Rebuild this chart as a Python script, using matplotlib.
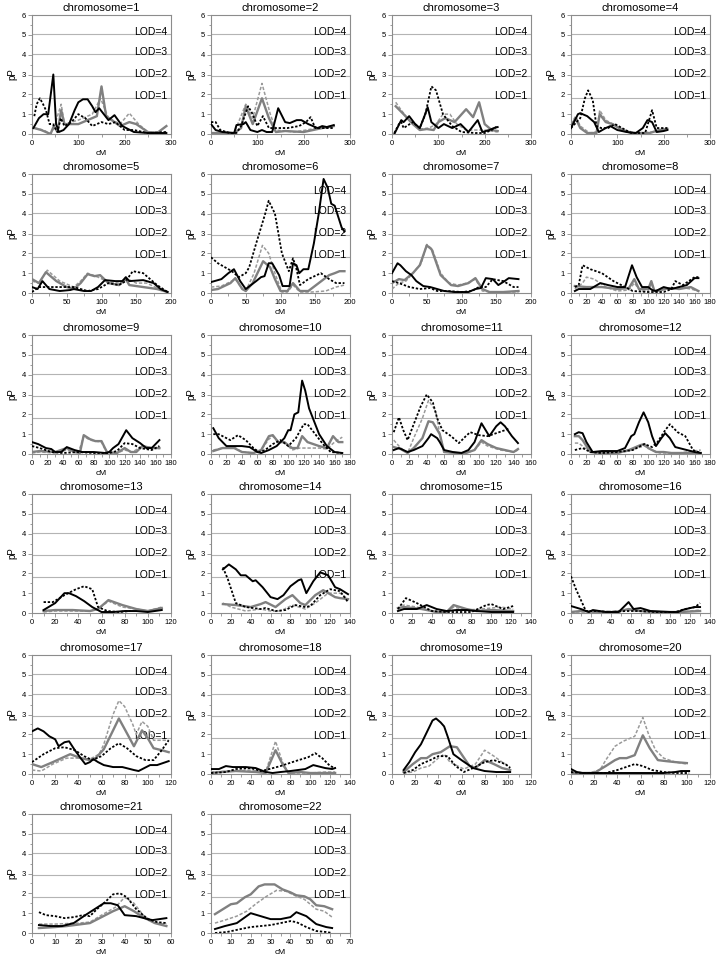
import matplotlib
matplotlib.use('Agg')
import matplotlib.pyplot as plt
from matplotlib.ticker import MultipleLocator

plt.rcParams['font.family'] = ['Liberation Sans', 'DejaVu Sans']

chromosomes = list(range(1, 23))
x_max = [300, 300, 300, 300, 200, 200, 200, 180, 180, 180, 160, 180,
         120, 140, 140, 140, 120, 140, 120, 120, 60, 70]
x_step = [100, 100, 100, 100, 50, 50, 50, 20, 20, 20, 20, 20,
          20, 20, 20, 20, 20, 20, 20, 20, 10, 10]
lod_levels = [1.8, 2.9, 4.02, 5.05]
lod_labels = ['LOD=1', 'LOD=2', 'LOD=3', 'LOD=4']

# (cM, pP) points, one dict per line type
black_solid = {
    1: [(3, 0.3), (15, 0.8), (25, 1.0), (35, 1.0), (46, 3.0), (52, 0.5), (58, 0.1), (68, 0.2), (80, 0.5), (92, 1.2), (100, 1.6), (110, 1.75), (120, 1.75), (130, 1.4), (137, 1.1), (145, 1.3), (155, 1.0), (165, 0.7), (178, 0.95), (195, 0.4), (220, 0.1), (250, 0.05), (290, 0.05)],
    2: [(0, 0.5), (10, 0.2), (25, 0.1), (50, 0.05), (55, 0.45), (70, 0.5), (75, 0.6), (85, 0.2), (100, 0.1), (110, 0.2), (120, 0.1), (132, 0.1), (145, 1.3), (160, 0.6), (170, 0.55), (185, 0.7), (195, 0.7), (210, 0.5), (230, 0.3), (240, 0.4), (250, 0.35), (265, 0.45)],
    3: [(5, 0.0), (20, 0.7), (25, 0.6), (37, 0.9), (50, 0.5), (60, 0.3), (70, 0.9), (77, 1.35), (85, 0.6), (100, 0.3), (112, 0.5), (130, 0.3), (148, 0.5), (165, 0.1), (185, 0.7), (195, 0.1), (210, 0.2), (220, 0.3), (228, 0.35)],
    4: [(0, 0.3), (15, 1.0), (20, 1.05), (35, 0.9), (50, 0.6), (60, 0.1), (75, 0.3), (85, 0.4), (100, 0.2), (120, 0.1), (140, 0.05), (155, 0.3), (165, 0.7), (175, 0.6), (185, 0.1), (200, 0.15), (208, 0.2)],
    5: [(0, 0.3), (8, 0.2), (15, 0.6), (25, 0.2), (40, 0.1), (55, 0.15), (60, 0.2), (75, 0.1), (85, 0.1), (95, 0.3), (105, 0.65), (120, 0.6), (130, 0.6), (135, 0.8), (140, 0.6), (160, 0.65), (175, 0.5), (185, 0.2), (195, 0.05)],
    6: [(0, 0.55), (15, 0.7), (25, 1.0), (33, 1.2), (42, 0.6), (50, 0.2), (65, 0.6), (72, 0.8), (77, 0.85), (83, 1.5), (88, 1.5), (98, 0.9), (103, 0.35), (113, 0.35), (118, 1.5), (123, 1.4), (127, 1.0), (133, 1.2), (140, 1.2), (148, 2.5), (155, 4.0), (162, 5.75), (168, 5.3), (173, 4.5), (178, 4.4), (188, 3.3), (192, 3.1)],
    7: [(0, 1.0), (8, 1.5), (12, 1.4), (20, 1.1), (28, 0.9), (35, 0.6), (45, 0.35), (55, 0.3), (65, 0.2), (75, 0.1), (90, 0.05), (110, 0.05), (120, 0.2), (128, 0.25), (135, 0.75), (145, 0.7), (153, 0.4), (162, 0.6), (168, 0.75), (182, 0.7)],
    8: [(5, 0.1), (10, 0.2), (25, 0.2), (38, 0.5), (48, 0.4), (60, 0.3), (70, 0.3), (79, 1.4), (85, 0.8), (92, 0.3), (100, 0.3), (105, 0.15), (110, 0.1), (120, 0.3), (130, 0.2), (140, 0.3), (150, 0.4), (160, 0.75), (165, 0.75)],
    9: [(0, 0.6), (8, 0.5), (18, 0.3), (25, 0.25), (30, 0.1), (38, 0.1), (45, 0.35), (55, 0.2), (65, 0.1), (80, 0.1), (95, 0.05), (100, 0.1), (105, 0.3), (112, 0.5), (122, 1.2), (130, 0.8), (140, 0.55), (148, 0.3), (155, 0.3), (165, 0.7)],
    10: [(3, 1.3), (10, 0.8), (20, 0.4), (30, 0.4), (40, 0.4), (50, 0.35), (60, 0.1), (65, 0.05), (75, 0.2), (85, 0.4), (95, 0.8), (100, 1.2), (103, 1.2), (108, 2.0), (113, 2.1), (118, 3.7), (122, 3.2), (127, 2.3), (132, 1.8), (140, 1.0), (150, 0.4), (160, 0.1), (170, 0.05)],
    11: [(2, 0.2), (8, 0.3), (18, 0.1), (25, 0.2), (35, 0.4), (42, 0.8), (45, 1.0), (52, 0.8), (55, 0.6), (60, 0.2), (70, 0.1), (80, 0.05), (88, 0.2), (95, 0.6), (103, 1.55), (112, 0.9), (120, 1.4), (125, 1.6), (130, 1.4), (138, 0.9), (145, 0.55)],
    12: [(5, 1.0), (10, 1.1), (15, 1.05), (20, 0.6), (28, 0.1), (40, 0.15), (50, 0.15), (60, 0.15), (70, 0.3), (78, 0.9), (82, 1.0), (88, 1.6), (94, 2.1), (100, 1.6), (105, 0.9), (110, 0.4), (117, 0.8), (122, 1.05), (128, 0.8), (135, 0.35), (145, 0.25), (150, 0.2), (160, 0.1), (168, 0.05)],
    13: [(10, 0.15), (20, 0.5), (28, 1.0), (32, 1.0), (38, 0.85), (45, 0.6), (52, 0.3), (60, 0.05), (70, 0.05), (80, 0.1), (90, 0.1), (100, 0.05), (106, 0.1), (112, 0.15)],
    14: [(12, 2.2), (18, 2.45), (25, 2.2), (30, 1.9), (35, 1.9), (42, 1.6), (45, 1.65), (52, 1.3), (60, 0.8), (67, 0.7), (73, 0.9), (80, 1.35), (88, 1.65), (91, 1.7), (96, 1.0), (103, 1.6), (110, 2.05), (118, 1.9), (125, 1.3), (130, 1.2), (138, 0.95)],
    15: [(6, 0.1), (12, 0.2), (25, 0.2), (35, 0.4), (45, 0.2), (55, 0.1), (65, 0.15), (75, 0.15), (85, 0.1), (100, 0.05), (122, 0.05)],
    16: [(0, 0.35), (10, 0.2), (18, 0.05), (22, 0.15), (35, 0.05), (48, 0.05), (53, 0.3), (58, 0.55), (63, 0.2), (70, 0.25), (80, 0.1), (100, 0.05), (108, 0.05), (112, 0.15), (120, 0.25), (125, 0.3), (130, 0.3)],
    17: [(0, 2.15), (5, 2.3), (10, 2.15), (15, 1.9), (20, 1.75), (23, 1.4), (28, 1.6), (32, 1.65), (37, 1.2), (42, 0.8), (46, 0.5), (50, 0.6), (53, 0.75), (57, 0.6), (62, 0.45), (70, 0.35), (78, 0.35), (88, 0.2), (92, 0.15), (97, 0.3), (102, 0.45), (108, 0.45), (118, 0.65)],
    18: [(0, 0.25), (8, 0.25), (15, 0.4), (22, 0.35), (35, 0.35), (45, 0.3), (55, 0.1), (62, 0.05), (70, 0.1), (80, 0.15), (95, 0.25), (103, 0.45), (115, 0.3), (122, 0.25), (125, 0.3)],
    19: [(10, 0.2), (15, 0.6), (20, 1.1), (25, 1.5), (30, 2.1), (35, 2.7), (38, 2.8), (42, 2.6), (45, 2.4), (48, 1.9), (53, 1.0), (60, 0.7), (70, 0.3), (80, 0.15), (90, 0.1), (102, 0.1)],
    20: [(0, 0.25), (5, 0.1), (10, 0.05), (30, 0.05), (50, 0.05), (65, 0.05), (80, 0.05), (90, 0.1), (95, 0.15), (102, 0.15)],
    21: [(3, 0.4), (8, 0.35), (13, 0.35), (18, 0.5), (23, 0.9), (27, 1.2), (31, 1.5), (34, 1.5), (37, 1.4), (40, 0.9), (45, 0.85), (50, 0.7), (52, 0.65), (55, 0.7), (58, 0.75)],
    22: [(2, 0.2), (7, 0.35), (13, 0.5), (20, 1.0), (25, 0.85), (30, 0.7), (35, 0.7), (40, 0.8), (43, 1.05), (48, 0.85), (53, 0.45), (58, 0.3), (61, 0.25)],
}

black_dotted = {
    1: [(5, 0.9), (10, 1.5), (17, 1.8), (24, 1.5), (30, 1.2), (38, 0.5), (45, 0.5), (55, 0.1), (62, 0.8), (70, 0.4), (85, 0.6), (100, 1.0), (115, 0.8), (130, 0.4), (150, 0.6), (165, 0.5), (180, 0.6), (200, 0.2), (220, 0.2), (250, 0.05), (290, 0.1)],
    2: [(0, 0.6), (10, 0.6), (20, 0.2), (40, 0.05), (55, 0.05), (65, 0.4), (80, 1.4), (90, 1.0), (100, 0.4), (112, 0.9), (125, 0.3), (140, 0.3), (165, 0.3), (190, 0.4), (205, 0.6), (215, 0.85), (225, 0.3), (240, 0.3), (265, 0.3)],
    3: [(5, 0.05), (15, 0.5), (20, 0.6), (25, 0.3), (45, 0.6), (60, 0.3), (72, 1.0), (85, 2.4), (95, 2.2), (110, 1.0), (130, 0.4), (150, 0.1), (180, 0.05), (200, 0.05), (215, 0.2), (228, 0.4)],
    4: [(0, 0.3), (20, 0.8), (30, 1.8), (37, 2.2), (47, 1.7), (55, 0.4), (65, 0.3), (80, 0.3), (95, 0.5), (110, 0.3), (130, 0.05), (160, 0.05), (175, 1.2), (185, 0.3), (208, 0.3)],
    5: [(0, 0.05), (10, 0.3), (20, 0.3), (40, 0.3), (60, 0.3), (80, 0.1), (95, 0.2), (110, 0.5), (125, 0.4), (135, 0.6), (145, 1.1), (160, 1.0), (180, 0.4), (195, 0.05)],
    6: [(0, 1.8), (10, 1.5), (20, 1.3), (30, 1.1), (40, 0.8), (50, 1.0), (55, 1.3), (65, 2.5), (78, 4.0), (83, 4.65), (92, 4.0), (102, 2.0), (112, 1.1), (118, 1.75), (123, 1.2), (128, 0.4), (140, 0.7), (158, 1.0), (170, 0.7), (180, 0.5), (192, 0.5)],
    7: [(0, 0.6), (10, 0.5), (25, 0.3), (40, 0.2), (55, 0.25), (65, 0.1), (80, 0.1), (100, 0.05), (115, 0.1), (125, 0.3), (135, 0.3), (145, 0.7), (160, 0.6), (175, 0.3), (182, 0.3)],
    8: [(5, 0.3), (10, 0.4), (15, 1.4), (25, 1.2), (40, 1.0), (55, 0.6), (70, 0.3), (80, 0.1), (100, 0.05), (120, 0.05), (130, 0.2), (135, 0.6), (145, 0.4), (160, 0.8), (165, 0.8)],
    9: [(0, 0.4), (10, 0.3), (25, 0.1), (40, 0.05), (60, 0.1), (80, 0.05), (100, 0.05), (110, 0.15), (120, 0.55), (130, 0.5), (140, 0.3), (155, 0.2), (165, 0.4)],
    10: [(3, 1.0), (10, 1.0), (25, 0.7), (35, 0.95), (45, 0.7), (55, 0.3), (62, 0.1), (70, 0.2), (80, 0.5), (90, 0.7), (100, 0.4), (110, 0.8), (120, 1.5), (125, 1.5), (135, 1.0), (145, 0.5), (155, 0.1), (170, 0.05)],
    11: [(2, 1.1), (8, 1.85), (13, 1.2), (18, 0.7), (25, 1.5), (33, 2.4), (40, 3.0), (47, 2.6), (52, 1.8), (58, 1.2), (68, 0.9), (77, 0.55), (85, 0.9), (90, 1.1), (100, 0.95), (110, 0.9), (130, 1.2), (135, 1.3)],
    12: [(5, 0.2), (15, 0.3), (25, 0.1), (40, 0.05), (60, 0.1), (80, 0.2), (95, 0.5), (105, 0.35), (112, 0.6), (122, 1.2), (128, 1.5), (138, 1.1), (148, 0.9), (158, 0.2), (168, 0.05)],
    13: [(10, 0.55), (18, 0.55), (28, 0.9), (38, 1.2), (45, 1.35), (52, 1.2), (57, 0.3), (65, 0.1), (75, 0.05), (85, 0.1)],
    14: [(12, 2.3), (17, 1.7), (25, 0.5), (35, 0.3), (50, 0.2), (55, 0.25), (65, 0.1), (75, 0.15), (85, 0.4), (95, 0.3), (100, 0.35), (110, 0.9), (120, 1.2), (130, 1.1), (138, 0.55)],
    15: [(6, 0.2), (14, 0.75), (25, 0.5), (40, 0.1), (55, 0.05), (70, 0.05), (80, 0.05), (95, 0.4), (100, 0.45), (112, 0.2), (122, 0.35)],
    16: [(0, 1.85), (5, 1.2), (15, 0.1), (25, 0.1), (40, 0.05), (55, 0.1), (70, 0.1), (85, 0.05), (105, 0.05), (115, 0.2), (125, 0.3), (130, 0.5)],
    17: [(0, 0.6), (10, 1.0), (20, 1.3), (28, 1.35), (37, 1.2), (45, 0.9), (52, 0.7), (60, 0.9), (68, 1.3), (75, 1.55), (82, 1.3), (90, 0.9), (98, 0.7), (105, 0.7), (112, 1.2), (118, 1.7)],
    18: [(0, 0.05), (15, 0.1), (25, 0.25), (40, 0.3), (50, 0.15), (55, 0.2), (70, 0.4), (85, 0.65), (98, 0.85), (105, 1.05), (112, 0.8), (120, 0.4), (125, 0.3)],
    19: [(10, 0.05), (18, 0.2), (25, 0.5), (33, 0.7), (40, 0.9), (45, 0.9), (48, 0.9), (55, 0.4), (62, 0.1), (70, 0.3), (80, 0.6), (88, 0.7), (98, 0.5), (102, 0.3)],
    20: [(0, 0.1), (10, 0.05), (30, 0.05), (40, 0.2), (50, 0.4), (55, 0.5), (62, 0.4), (70, 0.2), (80, 0.1), (90, 0.05), (102, 0.05)],
    21: [(3, 1.05), (6, 0.9), (10, 0.85), (14, 0.75), (18, 0.8), (22, 0.9), (25, 0.85), (28, 1.2), (31, 1.5), (35, 1.95), (38, 2.0), (41, 1.8), (45, 1.2), (50, 0.7), (54, 0.55), (58, 0.5)],
    22: [(2, 0.0), (8, 0.05), (15, 0.2), (20, 0.3), (30, 0.4), (35, 0.5), (40, 0.6), (43, 0.55), (48, 0.3), (53, 0.1), (58, 0.05), (61, 0.0)],
}

gray_solid = {
    1: [(5, 0.3), (20, 0.2), (40, 0.0), (47, 0.4), (55, 0.1), (63, 1.2), (70, 0.5), (100, 0.5), (120, 0.7), (140, 0.9), (150, 2.4), (160, 0.9), (190, 0.4), (210, 0.6), (225, 0.5), (250, 0.1), (270, 0.05), (290, 0.4)],
    2: [(0, 0.05), (50, 0.05), (65, 0.3), (75, 1.4), (90, 0.5), (110, 1.8), (125, 0.8), (140, 0.1), (160, 0.15), (200, 0.1), (240, 0.3), (265, 0.4)],
    3: [(8, 1.4), (25, 1.0), (45, 0.5), (60, 0.2), (75, 0.25), (90, 0.2), (100, 0.6), (115, 0.8), (135, 0.6), (160, 1.25), (175, 0.85), (188, 1.6), (200, 0.5), (215, 0.2), (228, 0.15)],
    4: [(0, 0.4), (10, 0.8), (20, 0.3), (35, 0.05), (55, 0.05), (62, 1.0), (75, 0.6), (90, 0.5), (110, 0.2), (130, 0.05), (170, 0.05), (190, 0.2), (208, 0.25)],
    5: [(0, 0.7), (10, 0.5), (20, 1.05), (35, 0.6), (50, 0.3), (60, 0.2), (70, 0.5), (80, 0.95), (90, 0.85), (98, 0.9), (110, 0.5), (125, 0.4), (135, 0.7), (140, 0.4), (160, 0.3), (180, 0.2), (195, 0.05)],
    6: [(0, 0.15), (10, 0.2), (28, 0.5), (35, 0.75), (45, 0.2), (50, 0.1), (60, 0.5), (75, 1.6), (85, 1.3), (92, 0.7), (100, 0.1), (110, 0.1), (118, 0.5), (128, 0.1), (140, 0.1), (155, 0.5), (170, 0.9), (178, 1.0), (185, 1.1), (192, 1.1)],
    7: [(0, 0.5), (10, 0.7), (18, 0.65), (30, 1.0), (40, 1.4), (50, 2.4), (57, 2.2), (70, 0.9), (85, 0.4), (95, 0.35), (110, 0.5), (120, 0.75), (130, 0.2), (140, 0.05), (160, 0.05), (182, 0.1)],
    8: [(5, 0.35), (20, 0.3), (40, 0.3), (60, 0.2), (75, 0.25), (82, 0.7), (88, 0.2), (100, 0.2), (104, 0.6), (108, 0.1), (120, 0.2), (130, 0.25), (140, 0.2), (155, 0.3), (165, 0.1)],
    9: [(0, 0.1), (10, 0.15), (30, 0.1), (45, 0.3), (55, 0.1), (62, 0.05), (67, 0.95), (75, 0.75), (82, 0.65), (90, 0.65), (97, 0.1), (110, 0.05), (120, 0.3), (128, 0.1), (135, 0.1), (143, 0.4), (155, 0.3), (165, 0.3)],
    10: [(3, 0.15), (15, 0.3), (30, 0.3), (40, 0.1), (55, 0.05), (65, 0.2), (75, 0.9), (80, 0.95), (87, 0.6), (95, 0.6), (105, 0.3), (112, 0.3), (118, 0.9), (125, 0.6), (140, 0.4), (150, 0.3), (158, 0.9), (165, 0.6), (170, 0.6)],
    11: [(2, 0.35), (10, 0.25), (18, 0.05), (25, 0.3), (35, 0.8), (42, 1.65), (47, 1.6), (55, 1.0), (60, 0.1), (75, 0.05), (85, 0.05), (95, 0.2), (103, 0.7), (110, 0.5), (120, 0.3), (130, 0.2), (140, 0.1), (145, 0.25)],
    12: [(5, 0.9), (10, 0.9), (15, 0.7), (25, 0.1), (40, 0.05), (60, 0.05), (75, 0.2), (90, 0.45), (95, 0.5), (100, 0.3), (110, 0.1), (120, 0.1), (130, 0.05), (168, 0.05)],
    13: [(10, 0.1), (20, 0.15), (35, 0.15), (50, 0.1), (57, 0.2), (66, 0.65), (78, 0.4), (90, 0.2), (100, 0.1), (112, 0.25)],
    14: [(12, 0.45), (25, 0.4), (40, 0.3), (50, 0.45), (55, 0.55), (65, 0.3), (75, 0.7), (82, 0.9), (90, 0.5), (95, 0.4), (105, 0.9), (113, 1.15), (125, 0.8), (130, 0.75), (138, 0.7)],
    15: [(6, 0.25), (12, 0.3), (30, 0.2), (45, 0.05), (55, 0.05), (62, 0.4), (75, 0.2), (85, 0.1), (100, 0.15), (122, 0.1)],
    16: [(0, 0.05), (10, 0.1), (30, 0.05), (45, 0.05), (58, 0.2), (70, 0.1), (90, 0.05), (110, 0.05), (130, 0.1)],
    17: [(0, 0.5), (8, 0.35), (18, 0.6), (33, 1.0), (42, 0.8), (50, 0.7), (55, 0.8), (62, 1.25), (70, 2.2), (75, 2.8), (82, 2.05), (88, 1.4), (95, 2.2), (100, 1.8), (105, 1.3), (112, 1.2), (118, 1.1)],
    18: [(0, 0.05), (10, 0.1), (25, 0.15), (45, 0.1), (55, 0.05), (65, 1.2), (72, 0.5), (78, 0.05), (90, 0.1), (100, 0.05), (125, 0.05)],
    19: [(10, 0.1), (18, 0.5), (25, 0.8), (30, 0.8), (35, 1.0), (42, 1.1), (50, 1.4), (56, 1.35), (60, 1.0), (67, 0.4), (72, 0.3), (80, 0.7), (88, 0.5), (95, 0.3), (102, 0.2)],
    20: [(0, 0.05), (10, 0.05), (20, 0.05), (30, 0.4), (38, 0.7), (42, 0.8), (48, 0.8), (55, 0.95), (62, 1.95), (68, 1.3), (75, 0.7), (82, 0.65), (90, 0.6), (100, 0.55)],
    21: [(3, 0.25), (10, 0.3), (15, 0.35), (25, 0.5), (30, 0.8), (35, 1.1), (40, 1.35), (44, 1.1), (48, 0.8), (53, 0.5), (58, 0.35)],
    22: [(2, 0.95), (6, 1.2), (10, 1.45), (13, 1.5), (17, 1.8), (20, 1.95), (24, 2.35), (27, 2.45), (30, 2.45), (32, 2.45), (36, 2.2), (40, 2.05), (43, 1.9), (47, 1.85), (50, 1.7), (53, 1.4), (57, 1.35), (61, 1.2)],
}

gray_dotted = {
    1: [(5, 0.3), (25, 0.2), (40, 0.0), (47, 0.3), (63, 1.5), (70, 0.5), (100, 0.7), (130, 1.0), (148, 1.8), (165, 0.8), (190, 0.5), (210, 1.05), (230, 0.5), (250, 0.1), (290, 0.1)],
    2: [(0, 0.05), (50, 0.05), (75, 1.5), (90, 0.8), (110, 2.55), (128, 1.0), (140, 0.2), (180, 0.1), (230, 0.3), (265, 0.35)],
    3: [(8, 1.6), (20, 1.2), (40, 0.6), (60, 0.25), (80, 0.3), (95, 0.5), (110, 1.0), (125, 1.0), (140, 0.5), (160, 0.2), (200, 0.2), (228, 0.1)],
    4: [(0, 0.5), (10, 0.9), (20, 0.4), (40, 0.05), (55, 0.1), (62, 1.2), (75, 0.7), (90, 0.5), (115, 0.2), (140, 0.05), (180, 0.1), (208, 0.3)],
    5: [(0, 0.6), (10, 0.5), (22, 1.15), (40, 0.6), (60, 0.3), (70, 0.6), (80, 1.0), (95, 0.8), (110, 0.55), (125, 0.5), (135, 0.75), (150, 0.5), (165, 0.5), (180, 0.25), (195, 0.05)],
    6: [(0, 0.3), (15, 0.35), (30, 0.6), (35, 0.7), (45, 0.2), (50, 0.1), (62, 1.0), (74, 2.4), (83, 2.0), (92, 1.0), (102, 0.05), (110, 0.05), (118, 0.4), (128, 0.05), (145, 0.05), (165, 0.1), (180, 0.3), (192, 0.4)],
    7: [(0, 0.2), (10, 0.5), (20, 0.6), (30, 1.0), (42, 1.5), (50, 2.45), (58, 2.2), (70, 1.0), (82, 0.5), (95, 0.4), (108, 0.5), (120, 0.7), (130, 0.1), (145, 0.05), (182, 0.05)],
    8: [(5, 0.2), (15, 0.5), (20, 0.8), (30, 0.7), (45, 0.3), (60, 0.1), (75, 0.15), (82, 0.5), (90, 0.1), (100, 0.1), (104, 0.5), (108, 0.05), (125, 0.2), (140, 0.3), (155, 0.2), (165, 0.1)],
    9: [(0, 0.05), (10, 0.1), (30, 0.05), (45, 0.2), (60, 0.05), (67, 0.9), (75, 0.7), (90, 0.6), (97, 0.05), (110, 0.05), (120, 0.2), (130, 0.1), (143, 0.4), (165, 0.25)],
    10: [(3, 0.2), (15, 0.3), (30, 0.35), (40, 0.1), (55, 0.05), (65, 0.2), (75, 0.75), (80, 0.9), (88, 0.6), (95, 0.6), (105, 0.2), (115, 0.3), (125, 0.3), (140, 0.3), (150, 0.25), (160, 0.6), (170, 0.85)],
    11: [(2, 0.7), (10, 0.3), (18, 0.05), (25, 0.8), (35, 1.8), (42, 2.7), (50, 2.2), (55, 1.0), (60, 0.1), (75, 0.05), (85, 0.05), (95, 0.2), (103, 0.6), (110, 0.4), (125, 0.2), (140, 0.1), (145, 0.2)],
    12: [(5, 0.55), (10, 0.55), (18, 0.3), (30, 0.05), (60, 0.05), (75, 0.15), (85, 0.3), (95, 0.4), (105, 0.2), (115, 0.05), (140, 0.05), (168, 0.2)],
    13: [(10, 0.05), (20, 0.1), (50, 0.1), (57, 0.2), (66, 0.6), (78, 0.3), (90, 0.2), (100, 0.1), (112, 0.3)],
    14: [(12, 0.5), (20, 0.3), (35, 0.1), (50, 0.2), (60, 0.1), (70, 0.1), (82, 0.4), (95, 0.2), (105, 0.5), (118, 1.0), (130, 1.0), (138, 0.7)],
    15: [(6, 0.15), (12, 0.4), (25, 0.3), (45, 0.05), (55, 0.05), (62, 0.3), (75, 0.15), (90, 0.2), (110, 0.3), (122, 0.2)],
    16: [(0, 0.05), (30, 0.05), (58, 0.15), (75, 0.05), (110, 0.05), (130, 0.15)],
    17: [(0, 0.2), (8, 0.15), (18, 0.5), (30, 0.8), (42, 0.8), (50, 0.75), (58, 1.0), (62, 1.5), (70, 3.0), (75, 3.7), (80, 3.4), (87, 2.5), (90, 2.0), (95, 2.65), (100, 2.4), (105, 1.7), (112, 1.7), (118, 1.7)],
    18: [(0, 0.1), (20, 0.15), (40, 0.2), (55, 0.1), (65, 1.65), (72, 0.6), (78, 0.05), (100, 0.05), (115, 0.1), (125, 0.1)],
    19: [(10, 0.05), (18, 0.1), (25, 0.3), (32, 0.4), (40, 0.8), (45, 1.0), (50, 0.6), (62, 0.25), (72, 0.5), (80, 1.2), (88, 0.9), (95, 0.6), (102, 0.35)],
    20: [(0, 0.05), (15, 0.05), (25, 0.2), (30, 0.7), (38, 1.4), (45, 1.65), (55, 1.9), (62, 2.85), (67, 2.0), (73, 1.2), (80, 0.8), (90, 0.6), (100, 0.5)],
    21: [(3, 0.45), (10, 0.45), (20, 0.5), (25, 0.55), (30, 0.9), (36, 1.3), (40, 1.8), (44, 1.5), (48, 0.9), (53, 0.5), (58, 0.45)],
    22: [(2, 0.5), (7, 0.65), (13, 0.85), (18, 1.1), (23, 1.5), (28, 1.85), (33, 2.15), (38, 2.1), (42, 1.9), (47, 1.7), (53, 1.2), (57, 1.1), (61, 0.8)],
}

series = [
    (gray_dotted, dict(color='#9a9a9a', lw=1.1, ls=(0, (2.2, 1.2)))),
    (gray_solid, dict(color='#808080', lw=1.7, ls='-')),
    (black_dotted, dict(color='black', lw=1.3, ls=(0, (1.3, 1.0)))),
    (black_solid, dict(color='black', lw=1.4, ls='-')),
]

W, H = 718, 957
fig = plt.figure(figsize=(W / 100, H / 100), dpi=100)
col_left = [32, 211, 392, 571]
row_top = [15, 174, 335, 494, 655, 814]
ax_w, ax_h = 139, 119
frame = '#8c8c8c'

for i, chrom in enumerate(chromosomes):
    r, c = divmod(i, 4)
    ax = fig.add_axes([col_left[c] / W, 1 - (row_top[r] + ax_h) / H, ax_w / W, ax_h / H])
    for lev, lab in zip(lod_levels, lod_labels):
        ax.axhline(lev, color='#b4b4b4', lw=0.8, zorder=1)
        ax.text(0.975, lev - 0.05, lab, transform=ax.get_yaxis_transform(), ha='right',
                va='baseline', fontsize=7.5, zorder=2)
    for data, style in series:
        pts = data[chrom]
        ax.plot([p[0] for p in pts], [p[1] for p in pts], zorder=3, **style)
    ax.set_xlim(0, x_max[i])
    ax.set_ylim(0, 6)
    ax.xaxis.set_major_locator(MultipleLocator(x_step[i]))
    ax.xaxis.set_minor_locator(MultipleLocator(x_step[i] / 2))
    ax.yaxis.set_major_locator(MultipleLocator(1))
    ax.yaxis.set_minor_locator(MultipleLocator(0.5))
    ax.tick_params(which='both', direction='out', color=frame, width=0.6, labelsize=5.5, pad=1.5)
    ax.tick_params(which='major', length=3)
    ax.tick_params(which='minor', length=1.8)
    for sp in ax.spines.values():
        sp.set_color(frame)
        sp.set_linewidth(0.8)
    ax.set_title('chromosome=%d' % chrom, fontsize=8, pad=3)
    ax.set_xlabel('cM', fontsize=6, labelpad=2)
    ax.set_ylabel('pP', fontsize=7, labelpad=3)

fig.savefig('out.png', dpi=100)
